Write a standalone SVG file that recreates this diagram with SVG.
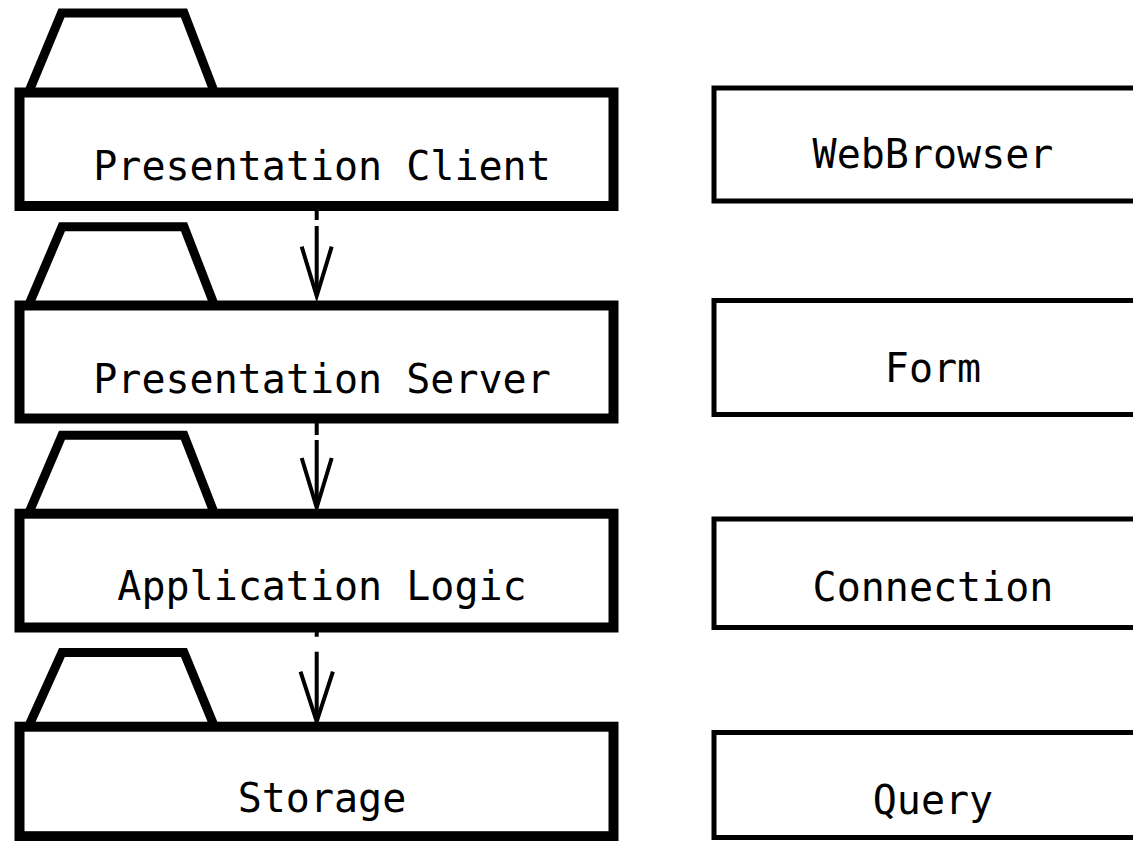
<svg xmlns="http://www.w3.org/2000/svg" width="1133" height="841" viewBox="0 0 1133 841">
<style>
.pkg{fill:#fff;stroke:#000;stroke-width:10}
.tab{fill:#fff;stroke:#000;stroke-width:9;stroke-linejoin:miter}
.box{fill:#fff;stroke:#000;stroke-width:5}
.lbl{font-family:"DejaVu Sans Mono","Liberation Mono",monospace;font-size:40px;fill:#000;text-anchor:middle}
.dep{fill:none;stroke:#000;stroke-width:4}
.head{fill:none;stroke:#000;stroke-width:4;stroke-linejoin:miter}
</style>
<rect width="1133" height="841" fill="#fff"/>
<g id="connectors">
<path class="dep" d="M316.7 206 V220 M316.7 226 V295"/>
<path class="head" d="M301.7 246.7 L316.7 296 L331.7 246.7"/>
<path class="dep" d="M316.7 418.5 V435 M316.7 440 V506"/>
<path class="head" d="M301.7 458 L316.7 507.5 L331.7 458"/>
<path class="dep" d="M316.7 627.7 V636.7 M316.7 651.7 V720"/>
<path class="head" d="M300.5 671.7 L316.7 721.5 L332.9 671.7"/>
</g>
<g id="presentation-client">
<polygon class="tab" points="28.5,92.5 61.5,13 184,13 214.5,92.5"/>
<rect class="pkg" x="19.5" y="92.5" width="594" height="113.5"/>
<text class="lbl" x="322" y="179.5">Presentation Client</text>
</g>
<g id="presentation-server">
<polygon class="tab" points="28.5,305.5 62,226.7 184,226.7 214.5,305.5"/>
<rect class="pkg" x="19.5" y="305.5" width="594" height="113"/>
<text class="lbl" x="322" y="392.7">Presentation Server</text>
</g>
<g id="application-logic">
<polygon class="tab" points="28.5,513.7 62,435.3 184,435.3 214.5,513.7"/>
<rect class="pkg" x="19.5" y="513.7" width="594" height="113.8"/>
<text class="lbl" x="322" y="600">Application Logic</text>
</g>
<g id="storage">
<polygon class="tab" points="28.5,726.7 62,652.5 184,652.5 214.5,726.7"/>
<rect class="pkg" x="19.5" y="726.7" width="594" height="109.5"/>
<text class="lbl" x="322" y="812.3">Storage</text>
</g>
<g id="webbrowser">
<rect class="box" x="714" y="88" width="440" height="113"/>
<text class="lbl" x="933" y="168.3">WebBrowser</text>
</g>
<g id="form">
<rect class="box" x="714" y="300.5" width="440" height="114"/>
<text class="lbl" x="933" y="381.7">Form</text>
</g>
<g id="connection">
<rect class="box" x="714" y="519" width="440" height="108.5"/>
<text class="lbl" x="933" y="601">Connection</text>
</g>
<g id="query">
<rect class="box" x="714" y="732.5" width="440" height="105"/>
<text class="lbl" x="933" y="814">Query</text>
</g>
</svg>
